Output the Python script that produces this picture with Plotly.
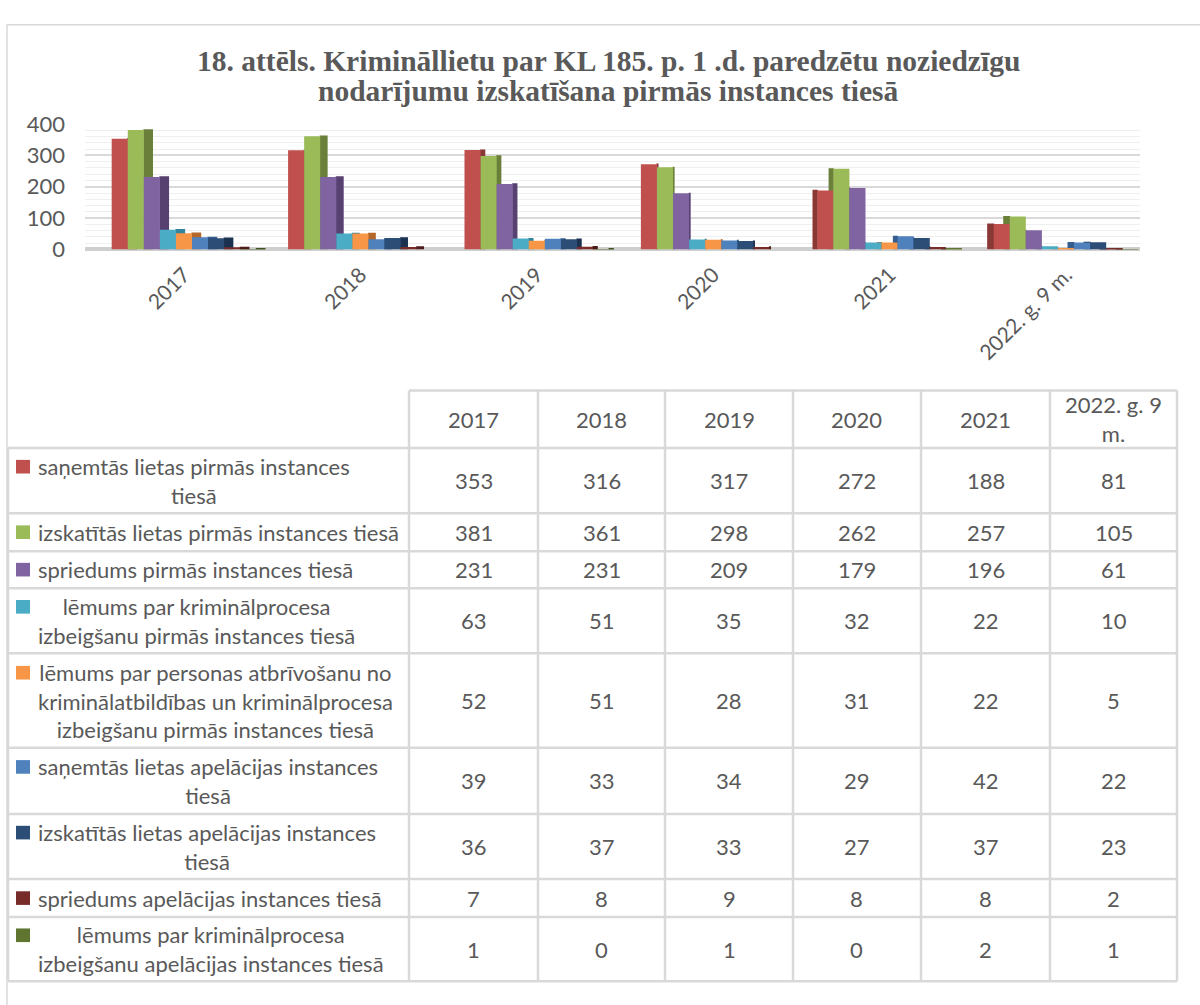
import plotly.graph_objects as go

# ---------------- data ----------------
categories = ["2017", "2018", "2019", "2020", "2021", "2022. g. 9 m."]
header_labels = ["2017", "2018", "2019", "2020", "2021", "2022. g. 9<br>m."]

series_labels = [
    "saņemtās lietas pirmās instances<br>tiesā",
    "izskatītās lietas pirmās instances tiesā",
    "spriedums pirmās instances tiesā",
    "lēmums par kriminālprocesa<br>izbeigšanu pirmās instances tiesā",
    "lēmums par personas atbrīvošanu no<br>kriminālatbildības un kriminālprocesa<br>izbeigšanu pirmās instances tiesā",
    "saņemtās lietas apelācijas instances<br>tiesā",
    "izskatītās lietas apelācijas instances<br>tiesā",
    "spriedums apelācijas instances tiesā",
    "lēmums par kriminālprocesa<br>izbeigšanu apelācijas instances tiesā",
]

received_first = [353, 316, 317, 272, 188, 81]
examined_first = [381, 361, 298, 262, 257, 105]
judgment_first = [231, 231, 209, 179, 196, 61]
termination_first = [63, 51, 35, 32, 22, 10]
release_first = [52, 51, 28, 31, 22, 5]
received_appeal = [39, 33, 34, 29, 42, 22]
examined_appeal = [36, 37, 33, 27, 37, 23]
judgment_appeal = [7, 8, 9, 8, 8, 2]
termination_appeal = [1, 0, 1, 0, 2, 1]

series_values = [received_first, examined_first, judgment_first, termination_first,
                 release_first, received_appeal, examined_appeal, judgment_appeal,
                 termination_appeal]

title_lines = ["18. attēls. Krimināllietu par KL 185. p. 1 .d. paredzētu noziedzīgu",
               "nodarījumu izskatīšana pirmās instances tiesā"]

y_ticks = [0, 100, 200, 300, 400]

# ---------------- styles ----------------
colors = ["#C0504D", "#9BBB59", "#8064A2", "#4BACC6", "#F79646",
          "#4F81BD", "#2C4D75", "#772C2A", "#5F7530"]
side_colors = ["#8A3836", "#6A7F3A", "#564170", "#31849C", "#B4662B",
               "#365D8E", "#1B3150", "#4D1B1A", "#405020"]
text_color = "#595959"
grid_color = "#D9D9D9"
FONT = "Lato"

W, H = 1200, 1005


def px(x):
    return x / W


def py(y):
    return 1 - y / H


fig = go.Figure()

n = len(series_values)
group_w = 0.82
slot = group_w / n
# pseudo-3D side face width per category (positive -> right side, negative -> left side)
side_spec = [0.055, 0.045, 0.03, 0.012, -0.03, -0.04]

side_traces = []
front_traces = []
for i, (vals, col, scol, lab) in enumerate(zip(series_values, colors, side_colors, series_labels)):
    off = -group_w / 2 + i * slot
    s_off = [off + slot - 0.003 if s > 0 else off - abs(s) + 0.003 for s in side_spec]
    s_w = [abs(s) for s in side_spec]
    side_traces.append(go.Bar(
        x=categories, y=[v + 2 if v > 0 else 0 for v in vals], offset=s_off, width=s_w,
        marker=dict(color=scol, line=dict(width=0)), showlegend=False,
        hoverinfo="skip"))
    front_traces.append(go.Bar(
        x=categories, y=vals, offset=off, width=slot,
        marker=dict(color=col, line=dict(width=0)),
        name=lab.replace("<br>", " "), showlegend=False))

for t in side_traces + front_traces:
    fig.add_trace(t)

# plot area geometry (pixels)
x_left, x_right = 85, 1140
first_c, step = 184, 176.4
r0 = -(first_c - x_left) / step
r1 = (len(categories) - 1) + (x_right - (first_c + step * (len(categories) - 1))) / step

fig.update_layout(
    width=W, height=H,
    margin=dict(l=0, r=0, t=0, b=0),
    paper_bgcolor="white", plot_bgcolor="white",
    barmode="overlay",
    font=dict(family=FONT, color=text_color, size=21),
    xaxis=dict(domain=[px(x_left), px(x_right)], range=[r0, r1],
               showgrid=False, zeroline=False,
               showline=False, ticks="", tickangle=-45,
               tickfont=dict(family=FONT, size=21, color=text_color),
               ticklabelstandoff=8),
    yaxis=dict(domain=[py(242), py(113)], range=[0, 400],
               tickvals=y_ticks, showgrid=True, gridcolor=grid_color, gridwidth=2,
               minor=dict(dtick=20, showgrid=True, gridcolor="#EFEFEF", gridwidth=1),
               zeroline=True, zerolinecolor="#CFCFCF", zerolinewidth=4,
               showline=False, ticks="",
               tickfont=dict(family=FONT, size=22, color=text_color),
               ticklabelstandoff=19),
)

shapes = []
# chart border
shapes.append(dict(type="rect", xref="paper", yref="paper",
                   x0=px(7), x1=px(1230), y0=py(1030), y1=py(11),
                   line=dict(color=grid_color, width=1.5), fillcolor="rgba(0,0,0,0)"))

# table geometry
row_edges = [387, 446, 513, 552, 590, 657, 754, 822, 889, 928, 994]
col_edges = [409, 538, 665, 793, 921, 1050, 1177]
left_x = 8
line_w = 2.5

shapes.append(dict(type="line", xref="paper", yref="paper",
                   x0=px(col_edges[0]), x1=px(col_edges[-1]),
                   y0=py(row_edges[0]), y1=py(row_edges[0]),
                   line=dict(color=grid_color, width=line_w)))
for yy in row_edges[1:]:
    shapes.append(dict(type="line", xref="paper", yref="paper",
                       x0=px(left_x), x1=px(col_edges[-1]), y0=py(yy), y1=py(yy),
                       line=dict(color=grid_color, width=line_w)))
for xx in col_edges:
    shapes.append(dict(type="line", xref="paper", yref="paper",
                       x0=px(xx), x1=px(xx), y0=py(row_edges[0]), y1=py(row_edges[-1]),
                       line=dict(color=grid_color, width=line_w)))
shapes.append(dict(type="line", xref="paper", yref="paper",
                   x0=px(left_x), x1=px(left_x), y0=py(row_edges[1]), y1=py(row_edges[-1]),
                   line=dict(color=grid_color, width=line_w)))

annotations = []
TS = 22
line_h = 1.3 * TS

# title (two lines, tighter spacing than default)
for line, cy in zip(title_lines, [48, 79]):
    annotations.append(dict(text="<b>" + line + "</b>", xref="paper", yref="paper",
                            x=px(608), y=py(cy), xanchor="center", yanchor="middle",
                            showarrow=False, align="center",
                            font=dict(family="Liberation Serif", size=29.5, color=text_color)))

# header
hdr_c = (row_edges[0] + row_edges[1]) / 2
for k, h in enumerate(header_labels):
    cx = (col_edges[k] + col_edges[k + 1]) / 2
    annotations.append(dict(text=h, xref="paper", yref="paper", x=px(cx), y=py(hdr_c),
                            xanchor="center", yanchor="middle", showarrow=False,
                            align="center", font=dict(size=TS, color=text_color, family=FONT)))

# rows
for r, (lab, vals, col) in enumerate(zip(series_labels, series_values, colors)):
    top, bot = row_edges[r + 1], row_edges[r + 2]
    cy = (top + bot) / 2
    nlines = lab.count("<br>") + 1
    first_line_c = cy - (nlines - 1) / 2 * line_h
    annotations.append(dict(text=lab, xref="paper", yref="paper", x=px(36), y=py(cy),
                            xanchor="left", yanchor="middle", showarrow=False,
                            align="center", font=dict(size=TS, color=text_color, family=FONT)))
    shapes.append(dict(type="rect", xref="paper", yref="paper",
                       x0=px(16), x1=px(30), y0=py(first_line_c + 7), y1=py(first_line_c - 7),
                       line=dict(width=0), fillcolor=col))
    for k, v in enumerate(vals):
        cx = (col_edges[k] + col_edges[k + 1]) / 2
        annotations.append(dict(text=str(v), xref="paper", yref="paper", x=px(cx), y=py(cy),
                                xanchor="center", yanchor="middle", showarrow=False,
                                font=dict(size=TS, color=text_color, family=FONT)))

fig.update_layout(shapes=shapes, annotations=annotations)
fig.write_html("out.html", config={"displayModeBar": False},
               post_script="document.body.style.margin='0px';")
